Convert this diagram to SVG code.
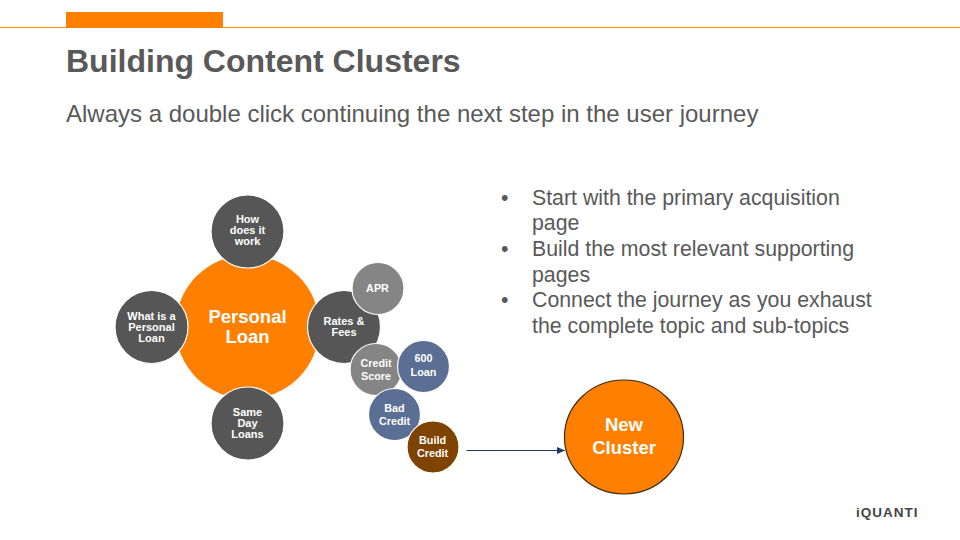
<svg xmlns="http://www.w3.org/2000/svg" width="960" height="540" viewBox="0 0 960 540">
<style>
text{font-family:"Liberation Sans",Arial,sans-serif}
.n{text-anchor:middle;fill:#fff;font-weight:700;font-size:11px}
.s{text-anchor:middle;fill:#fff;font-weight:700;font-size:10.8px}
.b{fill:#595959;font-size:21.3px}
.d{fill:#565656;stroke:#fff;stroke-width:1.2}
.g{fill:#858585;stroke:#fff;stroke-width:1.2}
.u{fill:#5b6f95;stroke:#fff;stroke-width:1.2}
.l{text-anchor:middle;fill:#fff;font-weight:700;font-size:18.5px}
</style>
<defs><marker id="a" markerWidth="9" markerHeight="8" refX="8" refY="3.5" orient="auto" markerUnits="userSpaceOnUse"><path d="M0 0L8 3.5L0 7Z" fill="#1f3864"/></marker></defs>
<rect width="960" height="540" fill="#fff"/>
<g id="header">
<rect x="0" y="27" width="960" height="1" fill="#ff8c00"/>
<rect x="66" y="12" width="157" height="16" fill="#ff8000"/>
<text x="66" y="72" font-size="32" font-weight="700" fill="#595959">Building Content Clusters</text>
<text x="66" y="122" font-size="24" fill="#595959">Always a double click continuing the next step in the user journey</text>
</g>
<g id="bullets">
<text class="b" x="501" y="205">•</text><text class="b" x="532" y="205">Start with the primary acquisition</text>
<text class="b" x="532" y="230">page</text>
<text class="b" x="501" y="256">•</text><text class="b" x="532" y="256">Build the most relevant supporting</text>
<text class="b" x="532" y="282">pages</text>
<text class="b" x="501" y="307">•</text><text class="b" x="532" y="307">Connect the journey as you exhaust</text>
<text class="b" x="532" y="333">the complete topic and sub-topics</text>
</g>
<g id="connectors"><line x1="466.5" y1="450.5" x2="565" y2="450.5" stroke="#1f3864" stroke-width="1" marker-end="url(#a)"/></g>
<g id="personal-loan"><circle cx="247.5" cy="327" r="72" fill="#ff8000"/><text class="l" x="247.5" y="323">Personal</text><text class="l" x="247.5" y="343">Loan</text></g>
<g id="how"><circle class="d" cx="247.5" cy="231.5" r="36.5"/><text class="n" x="247.5" y="223">How</text><text class="n" x="247.5" y="234">does it</text><text class="n" x="247.5" y="245">work</text></g>
<g id="what"><circle class="d" cx="151.5" cy="327" r="36.5"/><text class="n" x="151.5" y="320">What is a</text><text class="n" x="151.5" y="331">Personal</text><text class="n" x="151.5" y="342">Loan</text></g>
<g id="same"><circle class="d" cx="247.5" cy="423.5" r="36.5"/><text class="n" x="247.5" y="416">Same</text><text class="n" x="247.5" y="427">Day</text><text class="n" x="247.5" y="438">Loans</text></g>
<g id="rates"><circle class="d" cx="344" cy="327" r="36.5"/><text class="n" x="344" y="325">Rates &amp;</text><text class="n" x="344" y="336">Fees</text></g>
<g id="apr"><circle class="g" cx="378" cy="288.5" r="26"/><text class="s" x="377.5" y="292">APR</text></g>
<g id="credit-score"><circle class="g" cx="376" cy="369.5" r="26"/><text class="s" x="376" y="367">Credit</text><text class="s" x="376" y="380">Score</text></g>
<g id="loan-600"><circle class="u" cx="423.5" cy="366.5" r="26"/><text class="s" x="423.5" y="362">600</text><text class="s" x="423.5" y="376">Loan</text></g>
<g id="bad-credit"><circle class="u" cx="394.5" cy="414.5" r="26"/><text class="s" x="394.5" y="412">Bad</text><text class="s" x="394.5" y="425">Credit</text></g>
<g id="build-credit"><circle cx="433" cy="447" r="26" fill="#7f4300" stroke="#fff" stroke-width="1.2"/><text class="s" x="432.5" y="444">Build</text><text class="s" x="432.5" y="457">Credit</text></g>
<g id="new-cluster"><ellipse cx="624" cy="437" rx="59.5" ry="57" fill="#ff8000" stroke="#3a2a10" stroke-width="1.2"/><text class="l" x="624" y="431">New</text><text class="l" x="624" y="454">Cluster</text></g>
<g id="logo"><text x="856" y="517" font-size="13.5" font-weight="700" letter-spacing="1" fill="#444">iQUANTI</text></g>
</svg>
